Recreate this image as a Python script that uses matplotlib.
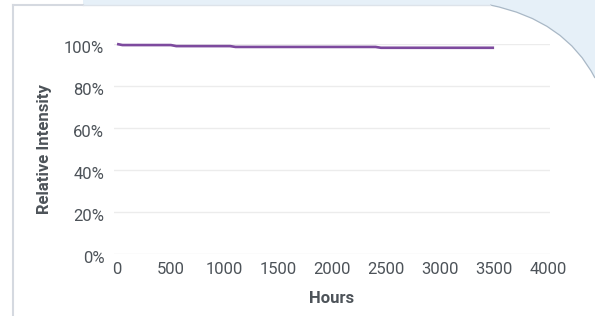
import matplotlib
matplotlib.use("Agg")
import matplotlib.pyplot as plt
from matplotlib.patches import Rectangle, PathPatch
from matplotlib.path import Path
from matplotlib import font_manager
from matplotlib.transforms import ScaledTranslation

hours = [0, 50, 500, 550, 1050, 1100, 2400, 2450, 3500]
intensity = [100, 99.5, 99.5, 99.0, 99.0, 98.6, 98.6, 98.2, 98.2]
x_ticks = [0, 500, 1000, 1500, 2000, 2500, 3000, 3500, 4000]
y_ticks = [0, 20, 40, 60, 80, 100]
y_tick_labels = ["0%", "20%", "40%", "60%", "80%", "100%"]

names = {f.name for f in font_manager.fontManager.ttflist}
fam = "Liberation Sans Narrow" if "Liberation Sans Narrow" in names else "Roboto"
plt.rcParams["font.family"] = [fam, "DejaVu Sans"]

W, H = 595, 316
fig = plt.figure(figsize=(W / 100, H / 100), dpi=100)
fig.patch.set_facecolor("white")

def px(x, y):
    return (x / W, 1 - y / H)

bg = "#e6f0f8"
fig.patches.append(Rectangle(px(83, 5), (W - 83) / W, 5 / H, transform=fig.transFigure,
                             facecolor=bg, edgecolor="none", zorder=0))
verts = [px(490, 5), px(565, 20), px(595, 78), px(595, 0), px(490, 0), px(490, 5)]
codes = [Path.MOVETO, Path.CURVE3, Path.CURVE3, Path.LINETO, Path.LINETO, Path.CLOSEPOLY]
fig.patches.append(PathPatch(Path(verts, codes), transform=fig.transFigure,
                             facecolor=bg, edgecolor="none", zorder=0))
curve = Path([px(490, 5), px(565, 20), px(595, 78)], [Path.MOVETO, Path.CURVE3, Path.CURVE3])
fig.patches.append(PathPatch(curve, transform=fig.transFigure, facecolor="none",
                             edgecolor="#a9b8c6", lw=0.9, zorder=1))
fig.lines.append(plt.Line2D([px(13, 0)[0], px(13, 0)[0]], [px(0, 5)[1], 0],
                            transform=fig.transFigure, color="#d5d9e0", lw=1.5))
fig.lines.append(plt.Line2D([px(13, 0)[0], px(83, 0)[0]], [px(0, 5)[1], px(0, 5)[1]],
                            transform=fig.transFigure, color="#d5d9e0", lw=1.5))
fig.lines.append(plt.Line2D([px(83, 0)[0], px(490, 0)[0]], [px(0, 5)[1], px(0, 5)[1]],
                            transform=fig.transFigure, color="#dde3ea", lw=1.0))

ax_l, ax_r, ax_t, ax_b = 114, 550, 44, 254
ax = fig.add_axes([ax_l / W, 1 - ax_b / H, (ax_r - ax_l) / W, (ax_b - ax_t) / H])
ax.set_facecolor("none")
ax.set_xlim(-28, 4019)
ax.set_ylim(0, 100)
ax.plot(hours, intensity, color="#7d4a9e", lw=1.9, clip_on=False, solid_capstyle="butt", zorder=3)

tc = "#4d5359"
ax.set_yticks(y_ticks)
ax.set_yticklabels(y_tick_labels)
ax.set_xticks(x_ticks)
ax.yaxis.grid(True, color="#ececec", lw=1.0)
ax.set_axisbelow(True)
for s in ax.spines.values():
    s.set_visible(False)
ax.tick_params(axis="both", length=0, labelsize=12, labelcolor=tc)
ax.tick_params(axis="y", pad=7)
ax.tick_params(axis="x", pad=6)
off = ScaledTranslation(0, -3 / 100, fig.dpi_scale_trans)
for lab in ax.get_yticklabels():
    lab.set_transform(lab.get_transform() + off)
ax.set_xlabel("Hours", fontsize=12, color=tc, fontweight="bold", labelpad=10)
ax.set_ylabel("Relative Intensity", fontsize=12, color=tc, fontweight="bold", labelpad=9)

fig.savefig("out.png", dpi=100, facecolor=fig.get_facecolor())
